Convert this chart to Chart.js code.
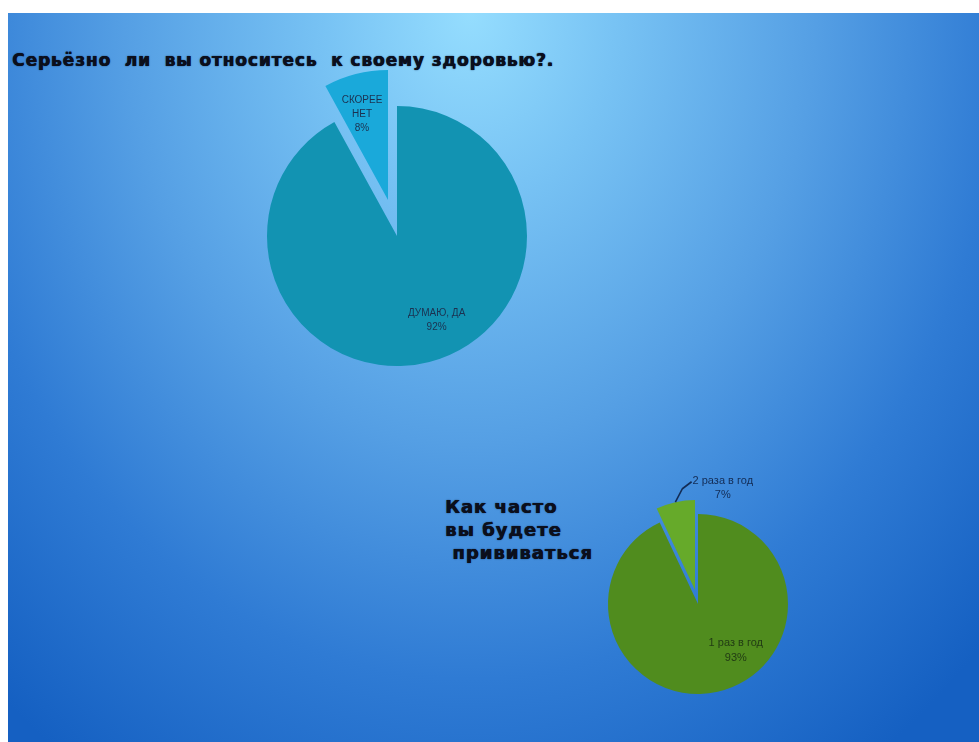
<!DOCTYPE html>
<html lang="ru">
<head>
<meta charset="utf-8">
<title>Здоровье и прививки</title>
<script src="https://cdn.jsdelivr.net/npm/chart.js@4.4.0/dist/chart.umd.min.js"></script>
<style>
    html, body { margin: 0; padding: 0; width: 979px; height: 742px; overflow: hidden; background: #fff; }
    #slide {
        position: absolute; left: 8px; top: 13px; width: 971px; height: 729px;
        background: radial-gradient(ellipse 720px 900px at 462px 0px,
            #95ddfe 0%, #78c3f4 20%, #559fe4 48%, #2f7bd4 74%, #1560c2 100%);
    }
    canvas { position: absolute; }
    .title {
        position: absolute; white-space: pre; color: #0b0f1c;
        font-family: "DejaVu Sans", sans-serif; font-weight: bold;
        text-shadow: 0.6px 0 0 #0b0f1c, 0 0 1.5px #14305a;
    }
</style>
</head>
<body>
<div id="slide"></div>
<div class="title" style="left:12px; top:50px; line-height:20px; font-size:17px; letter-spacing:0.9px;">Серьёзно  ли  вы относитесь  к своему здоровью?.</div>
<div class="title" style="left:445px; top:495px; line-height:23px; font-size:18px; letter-spacing:1px;">Как часто
вы будете
 прививаться</div>

<canvas id="healthMain" width="340" height="340"></canvas>
<canvas id="healthSmall" width="340" height="340"></canvas>
<canvas id="vaccMain" width="260" height="260"></canvas>
<canvas id="vaccSmall" width="260" height="260"></canvas>

<script>
// data
var healthLabels = [['ДУМАЮ, ДА'], ['СКОРЕЕ', 'НЕТ']];
var healthValues = [92, 8];
var vaccLabels = [['1 раз в год'], ['2 раза в год']];
var vaccValues = [93, 7];

var healthColors = ['#1293b2', '#1aa9da'];
var vaccColors = ['#508c1e', '#66aa2a'];

// draws "label / value%" for one slice of the chart
var sliceLabels = {
    id: 'sliceLabels',
    afterDatasetsDraw: function (chart, args, opts) {
        var ctx = chart.ctx;
        var arc = chart.getDatasetMeta(0).data[opts.index];
        var value = chart.data.datasets[0].data[opts.index];
        var p = arc.getProps(['x', 'y', 'startAngle', 'endAngle', 'outerRadius']);
        var mid = (p.startAngle + p.endAngle) / 2;
        var r = p.outerRadius * opts.radius;
        var x = p.x + Math.cos(mid) * r + opts.dx;
        var y = p.y + Math.sin(mid) * r + opts.dy;
        var lines = [].concat(chart.data.labels[opts.index], value + '%');
        var top = y - (lines.length - 1) / 2 * opts.lineHeight;

        ctx.save();
        ctx.font = opts.font;
        ctx.fillStyle = opts.color;
        ctx.textAlign = 'center';
        ctx.textBaseline = 'middle';
        lines.forEach(function (t, k) {
            ctx.fillText(t, x, top + k * opts.lineHeight);
        });
        if (opts.leader) {
            var w = ctx.measureText(lines[0]).width;
            var sx = p.x + Math.cos(mid) * p.outerRadius;
            var sy = p.y + Math.sin(mid) * p.outerRadius;
            var ex = x - w / 2 - 1;
            var ey = top + 1;
            ctx.strokeStyle = opts.color;
            ctx.lineWidth = 1.6;
            ctx.beginPath();
            ctx.moveTo(sx, sy);
            ctx.lineTo(sx + 7, ey + 7);
            ctx.quadraticCurveTo(sx + 11, ey + 4, ex, ey);
            ctx.stroke();
        }
        ctx.restore();
    }
};

// offset of the exploded slice, taken from its share of the pie
function explodeShift(values, index, dist) {
    var total = values.reduce(function (a, b) { return a + b; }, 0);
    var before = values.slice(0, index).reduce(function (a, b) { return a + b; }, 0);
    var mid = (before + values[index] / 2) / total * 2 * Math.PI - Math.PI / 2;
    return { x: Math.cos(mid) * dist, y: Math.sin(mid) * dist };
}

function placeCanvas(id, cx, cy) {
    var c = document.getElementById(id);
    c.style.left = Math.round(cx - c.width / 2) + 'px';
    c.style.top = Math.round(cy - c.height / 2) + 'px';
    return c;
}

function makePie(canvas, labels, values, colors, labelOpts) {
    return new Chart(canvas.getContext('2d'), {
        type: 'pie',
        data: {
            labels: labels,
            datasets: [{
                data: values,
                backgroundColor: colors,
                borderWidth: 0,
                hoverOffset: 0
            }]
        },
        options: {
            responsive: false,
            animation: false,
            events: [],
            layout: { padding: 40 },
            plugins: {
                legend: { display: false },
                tooltip: { enabled: false },
                sliceLabels: labelOpts
            }
        },
        plugins: [sliceLabels]
    });
}

// top pie
var h1 = { x: 397, y: 236 };
var hs = explodeShift(healthValues, 1, 37);
makePie(placeCanvas('healthMain', h1.x, h1.y), healthLabels, healthValues,
    [healthColors[0], 'rgba(0,0,0,0)'],
    { index: 0, radius: 0.7, dx: 17, dy: -4, lineHeight: 14, font: '10px "Liberation Sans"', color: '#1c3150' });
makePie(placeCanvas('healthSmall', h1.x + hs.x, h1.y + hs.y), healthLabels, healthValues,
    ['rgba(0,0,0,0)', healthColors[1]],
    { index: 1, radius: 0.68, dx: -4, dy: 0, lineHeight: 14, font: '10px "Liberation Sans"', color: '#1c3150' });

// bottom pie
var v1 = { x: 698, y: 604 };
var vs = explodeShift(vaccValues, 1, 14);
makePie(placeCanvas('vaccMain', v1.x, v1.y), vaccLabels, vaccValues,
    [vaccColors[0], 'rgba(0,0,0,0)'],
    { index: 0, radius: 0.55, dx: 27, dy: -2, lineHeight: 15, font: '11px "Liberation Sans"', color: '#223c14' });
makePie(placeCanvas('vaccSmall', v1.x + vs.x, v1.y + vs.y), vaccLabels, vaccValues,
    ['rgba(0,0,0,0)', vaccColors[1]],
    { index: 1, radius: 1.13, dx: 50, dy: -3, lineHeight: 14, font: '11px "Liberation Sans"', color: '#132c55', leader: true });
</script>
</body>
</html>
